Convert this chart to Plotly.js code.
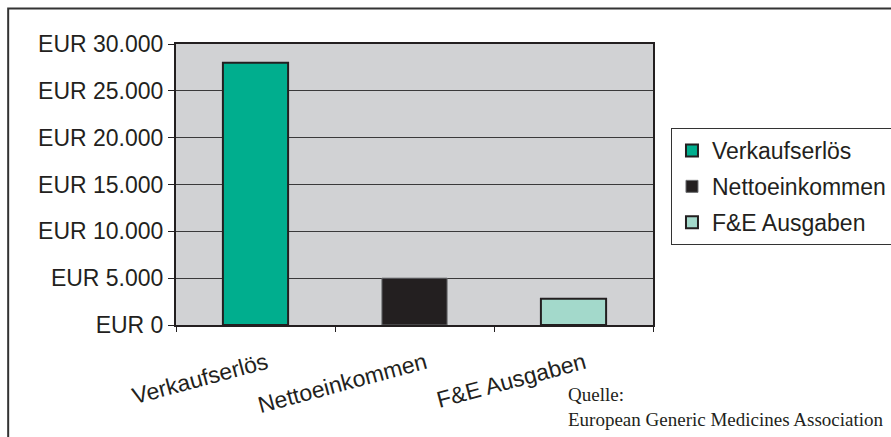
<!DOCTYPE html>
<html>
<head>
<meta charset="utf-8">
<script src="https://cdn.plot.ly/plotly-3.0.1.min.js"></script>
<style>html,body{margin:0;padding:0;background:#fff;}#chart{width:891px;height:437px;}</style>
</head>
<body>
<div id="chart"></div>
<script>
const categories = ["Verkaufserlös", "Nettoeinkommen", "F&E Ausgaben"];
const values = [28000, 5000, 2800];
const barColors = ["#00AE8E", "#231F20", "#A3D9CB"];
const lineColors = ["#231F20", "#6D6E71", "#231F20"];
const lineWidths = [2, 1, 2];
const yTickVals = [0, 5000, 10000, 15000, 20000, 25000, 30000];
const yTickText = ["EUR 0", "EUR 5.000", "EUR 10.000", "EUR 15.000", "EUR 20.000", "EUR 25.000", "EUR 30.000"];
const sourceLines = ["Quelle:", "European Generic Medicines Association"];

const L = 175.5, R = 653, T = 44, B = 325, W = 891, H = 437;
const px = x => (x - L) / (R - L);
const py = y => (B - y) / (B - T);

const traces = categories.map((c, i) => ({
  type: "bar",
  x: [c],
  y: [values[i]],
  name: c,
  width: 0.41,
  legendgroup: "g" + i,
  marker: { color: barColors[i], line: { color: lineColors[i], width: lineWidths[i] } },
  hoverinfo: "skip"
}));

const layout = {
  width: W, height: H,
  margin: { l: L, r: W - R, t: T, b: H - B, pad: 0, autoexpand: false },
  paper_bgcolor: "#ffffff",
  plot_bgcolor: "#D1D2D4",
  barmode: "overlay",
  font: { family: "Liberation Sans, Arial, sans-serif", size: 23, color: "#231F20" },
  showlegend: true,
  legend: {
    x: px(671), y: py(128), xanchor: "left", yanchor: "top",
    bgcolor: "#ffffff", bordercolor: "#333333", borderwidth: 1,
    font: { size: 23, color: "#231F20" },
    traceorder: "grouped", tracegroupgap: 3,
    itemwidth: 30
  },
  xaxis: {
    type: "category",
    categoryorder: "array", categoryarray: categories,
    showline: true, linecolor: "#231F20", linewidth: 2, mirror: true,
    ticks: "outside", ticklen: 5, tickcolor: "#231F20", tickwidth: 1,
    tickson: "boundaries",
    tickangle: -15,
    ticklabelshift: 11,
    ticklabelstandoff: 14,
    tickfont: { size: 23, color: "#231F20" },
    showgrid: false, zeroline: false, fixedrange: true
  },
  yaxis: {
    range: [0, 30000],
    tickmode: "array",
    tickvals: yTickVals,
    ticktext: yTickText,
    showline: true, linecolor: "#231F20", linewidth: 2, mirror: true,
    ticks: "outside", ticklen: 6, tickcolor: "#231F20", tickwidth: 1,
    tickfont: { size: 23, color: "#231F20" },
    showgrid: true, gridcolor: "#3a3a3a", gridwidth: 1,
    zeroline: false, fixedrange: true
  },
  shapes: [{
    type: "rect", xref: "paper", yref: "paper",
    x0: px(7.5), x1: px(900), y0: py(445), y1: py(8.5),
    line: { color: "#333333", width: 2 }, fillcolor: "rgba(0,0,0,0)", layer: "above"
  }],
  annotations: [{
    xref: "paper", yref: "paper",
    x: px(566), y: py(382), xanchor: "left", yanchor: "top", align: "left",
    showarrow: false,
    text: sourceLines.join("<br>"),
    font: { family: "Liberation Serif, Times New Roman, serif", size: 19, color: "#231F20" }
  }]
};

Plotly.newPlot("chart", traces, layout, { displayModeBar: false, staticPlot: true });
</script>
</body>
</html>
